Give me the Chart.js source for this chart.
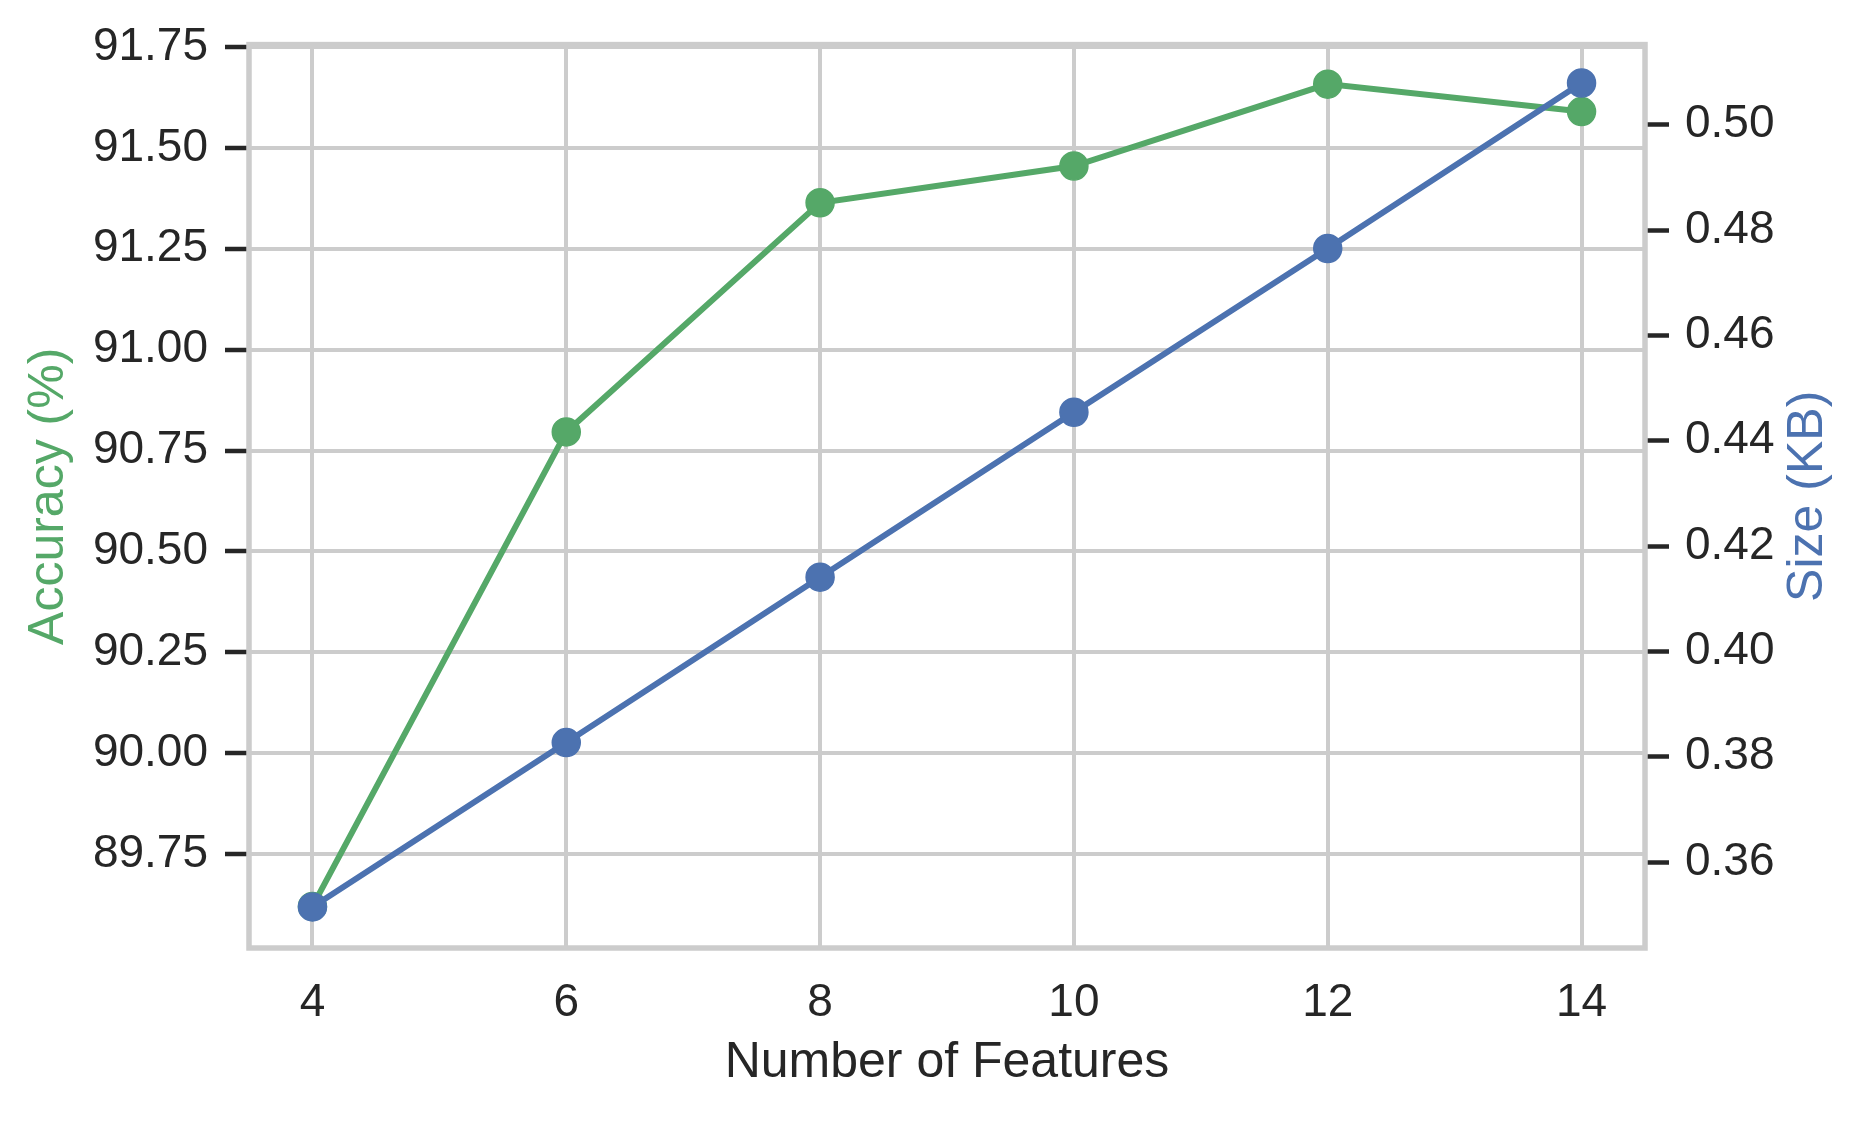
<!DOCTYPE html>
<html>
<head>
<meta charset="utf-8">
<script src="https://cdn.jsdelivr.net/npm/chart.js@4/dist/chart.umd.min.js"></script>
<style>
    html, body { margin: 0; padding: 0; background: #ffffff; }
    #chart { display: block; }
</style>
</head>
<body>
<canvas id="chart" width="1867" height="1121"></canvas>
<script>
// values
const features = [4, 6, 8, 10, 12, 14];
const accuracy = [89.62, 90.796, 91.364, 91.455, 91.658, 91.59];
const sizeKB = [0.3515, 0.3827, 0.4141, 0.4454, 0.4765, 0.5079];

const featureTicks = [4, 6, 8, 10, 12, 14];
const accuracyTicks = [89.75, 90.0, 90.25, 90.5, 90.75, 91.0, 91.25, 91.5, 91.75];
const sizeTicks = [0.36, 0.38, 0.40, 0.42, 0.44, 0.46, 0.48, 0.50];

const GREEN = '#55a868';
const BLUE = '#4c72b0';
const GRID = '#cccccc';
const TEXT = '#262626';
const FONT = "'Liberation Sans', Arial, sans-serif";

const toPoints = (xs, ys) => xs.map((x, i) => ({ x: x, y: ys[i] }));
const setTicks = values => scale => { scale.ticks = values.map(v => ({ value: v })); };

// light grey frame around the plot area, like the seaborn whitegrid spines
const framePlugin = {
    id: 'frame',
    beforeDatasetsDraw(chart) {
        const { ctx, chartArea: a } = chart;
        ctx.save();
        ctx.strokeStyle = GRID;
        ctx.lineWidth = 5.5;
        ctx.strokeRect(a.left, a.top, a.right - a.left, a.bottom - a.top);
        ctx.restore();
    }
};

// right axis title reads bottom-to-top in the reference, chart.js turns it the other way
const rightTitlePlugin = {
    id: 'rightTitle',
    afterDraw(chart) {
        const { ctx, chartArea: a } = chart;
        ctx.save();
        ctx.translate(chart.width - 59, (a.top + a.bottom) / 2);
        ctx.rotate(-Math.PI / 2);
        ctx.font = '50px ' + FONT;
        ctx.fillStyle = BLUE;
        ctx.textAlign = 'center';
        ctx.textBaseline = 'middle';
        ctx.fillText('Size (KB)', 0, 0);
        ctx.restore();
    }
};

Chart.defaults.font.family = FONT;
Chart.defaults.color = TEXT;

new Chart(document.getElementById('chart').getContext('2d'), {
    type: 'line',
    data: {
        datasets: [
            {
                label: 'Accuracy (%)',
                data: toPoints(features, accuracy),
                yAxisID: 'yAcc',
                borderColor: GREEN,
                backgroundColor: GREEN,
                borderWidth: 6,
                pointRadius: 14,
                pointBorderWidth: 1.5,
                pointBackgroundColor: GREEN,
                pointBorderColor: GREEN,
                tension: 0,
                order: 1
            },
            {
                label: 'Size (KB)',
                data: toPoints(features, sizeKB),
                yAxisID: 'ySize',
                borderColor: BLUE,
                backgroundColor: BLUE,
                borderWidth: 6,
                pointRadius: 14,
                pointBorderWidth: 1.5,
                pointBackgroundColor: BLUE,
                pointBorderColor: BLUE,
                tension: 0,
                order: 0
            }
        ]
    },
    options: {
        responsive: false,
        animation: false,
        devicePixelRatio: 1,
        layout: { padding: { top: 44, left: 0, right: 0, bottom: 0 } },
        plugins: {
            legend: { display: false },
            tooltip: { enabled: false }
        },
        scales: {
            x: {
                type: 'linear',
                position: 'bottom',
                min: 3.5,
                max: 14.5,
                afterBuildTicks: setTicks(featureTicks),
                afterFit: scale => { scale.height = 173; },
                border: { display: false },
                grid: { color: GRID, lineWidth: 4, drawTicks: false },
                ticks: {
                    padding: 28,
                    font: { size: 46 },
                    color: TEXT,
                    maxRotation: 0,
                    callback: v => String(v)
                },
                title: {
                    display: true,
                    text: 'Number of Features',
                    color: TEXT,
                    font: { size: 50 },
                    padding: { top: 0, bottom: 28 }
                }
            },
            yAcc: {
                type: 'linear',
                position: 'left',
                min: 89.517,
                max: 91.756,
                afterBuildTicks: setTicks(accuracyTicks),
                afterFit: scale => { scale.width = 249; },
                border: { display: false },
                grid: {
                    color: GRID,
                    lineWidth: 4,
                    drawTicks: true,
                    tickLength: 24,
                    tickColor: TEXT,
                    tickWidth: 4.5
                },
                ticks: {
                    padding: 17,
                    font: { size: 46 },
                    color: TEXT,
                    callback: v => v.toFixed(2)
                },
                title: {
                    display: true,
                    text: 'Accuracy (%)',
                    color: GREEN,
                    font: { size: 50 },
                    padding: { top: 19, bottom: 0 }
                }
            },
            ySize: {
                type: 'linear',
                position: 'right',
                min: 0.3437,
                max: 0.5152,
                afterBuildTicks: setTicks(sizeTicks),
                afterFit: scale => { scale.width = 222; },
                border: { display: false },
                grid: {
                    drawOnChartArea: false,
                    drawTicks: true,
                    tickLength: 24,
                    tickColor: TEXT,
                    tickWidth: 4.5
                },
                ticks: {
                    padding: 16,
                    font: { size: 46 },
                    color: TEXT,
                    callback: v => v.toFixed(2)
                },
                title: { display: false }
            }
        }
    },
    plugins: [framePlugin, rightTitlePlugin]
});
</script>
</body>
</html>
